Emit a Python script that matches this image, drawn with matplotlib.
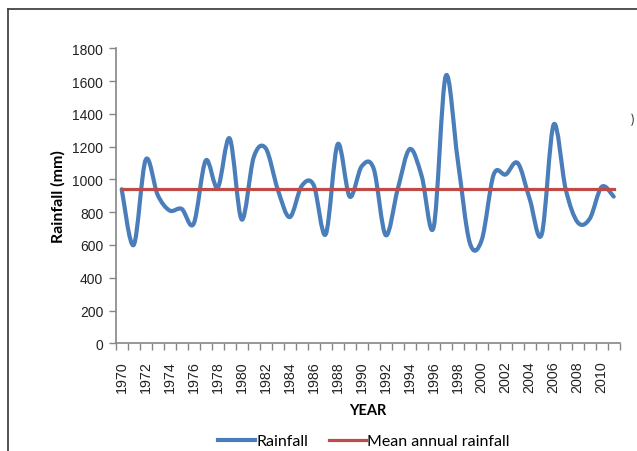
import matplotlib
matplotlib.use("Agg")
import matplotlib.pyplot as plt
from matplotlib.path import Path
from matplotlib.patches import PathPatch
from matplotlib.lines import Line2D
import numpy as np

plt.rcParams['font.family'] = ['Lato', 'DejaVu Sans']

years = list(range(1970, 2012))
rainfall = [940, 600, 1120, 905, 810, 820, 730, 1115, 950, 1250,
            755, 1135, 1190, 940, 770, 960, 965, 665, 1215, 895,
            1080, 1065, 660, 940, 1185, 1020, 710, 1630, 1120, 615,
            630, 1030, 1030, 1100, 880, 665, 1335, 940, 738, 760,
            955, 895]
mean_rainfall = 942
y_ticks = list(range(0, 1801, 200))
x_labels = [str(y) if (y - 1970) % 2 == 0 else "" for y in years]

W, H = 637, 452
fig = plt.figure(figsize=(W / 100, H / 100), dpi=100)
ax = fig.add_axes([115.7 / W, 1 - 344.3 / H, 504 / W, 295 / H])

xs = np.arange(len(years), dtype=float)
ys = np.array(rainfall, dtype=float)

# Excel-style smoothed line drawn as cubic Bezier segments
verts = [(xs[0], ys[0])]
codes = [Path.MOVETO]
n = len(xs)
for i in range(n - 1):
    p0 = np.array([xs[max(i - 1, 0)], ys[max(i - 1, 0)]])
    p1 = np.array([xs[i], ys[i]])
    p2 = np.array([xs[i + 1], ys[i + 1]])
    p3 = np.array([xs[min(i + 2, n - 1)], ys[min(i + 2, n - 1)]])
    c1 = p1 + (p2 - p0) / 6.0
    c2 = p2 - (p3 - p1) / 6.0
    verts += [tuple(c1), tuple(c2), tuple(p2)]
    codes += [Path.CURVE4] * 3
blue = '#4A7EBB'
red = '#BE4B48'
ax.add_patch(PathPatch(Path(verts, codes), facecolor='none', edgecolor=blue,
                       lw=3.0, capstyle='round', joinstyle='round', zorder=3))
ax.plot([xs[0], xs[-1]], [mean_rainfall, mean_rainfall], color=red, lw=2.3, zorder=4)

tick_font = ['Liberation Sans', 'DejaVu Sans']
ax.set_xlim(-0.5, n - 0.5)
ax.set_ylim(0, 1800)
ax.set_yticks(y_ticks)
ax.set_yticklabels([str(v) for v in y_ticks], fontsize=10, color='#222222', family=tick_font)
ax.set_xticks(xs)
ax.set_xticklabels(x_labels, rotation=90, fontsize=10.3, color='#222222', family=tick_font)
ax.tick_params(axis='x', length=0, pad=12)
ax.set_xticks(np.arange(-0.5, n, 1.0), minor=True)
ax.tick_params(axis='x', which='minor', length=5, direction='out', color='#868686', width=1)
ax.tick_params(axis='y', length=5, direction='out', color='#868686', width=1, pad=4)
for s in ['top', 'right']:
    ax.spines[s].set_visible(False)
for s in ['left', 'bottom']:
    ax.spines[s].set_color('#868686')
    ax.spines[s].set_linewidth(1.2)

ax.set_ylabel('Rainfall (mm)', fontsize=11.5, fontweight='bold', labelpad=5)
ax.set_xlabel('YEAR', fontsize=10.5, fontweight='bold', labelpad=8)

handles = [Line2D([], [], color=blue, lw=3.0), Line2D([], [], color=red, lw=2.3)]
fig.legend(handles, ['Rainfall', 'Mean annual rainfall'], loc='center',
           bbox_to_anchor=(364 / W, 1 - 442 / H), ncol=2, frameon=False,
           fontsize=11.5, handlelength=2.3, handletextpad=0.1, columnspacing=1.3)

# chart-area border (cropped on right and bottom)
fig.add_artist(Line2D([8 / W, 8 / W], [0, 1 - 10 / H], transform=fig.transFigure,
                      color='#444444', lw=1.3))
fig.add_artist(Line2D([8 / W, 1], [1 - 10 / H, 1 - 10 / H], transform=fig.transFigure,
                      color='#444444', lw=1.3))
fig.text(632 / W, 1 - 120 / H, ')', fontsize=9, ha='center', va='center', color='#333333')

fig.savefig('out.png', dpi=100)
